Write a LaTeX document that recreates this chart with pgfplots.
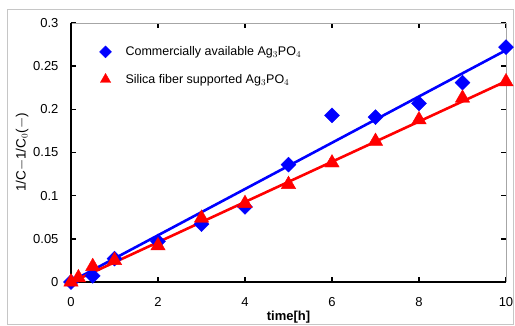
\documentclass[border=0pt]{standalone}
\usepackage{pgfplots}
\pgfplotsset{compat=1.18}
\usepackage{fontspec}
\setmainfont{Liberation Sans}
\definecolor{xlblue}{RGB}{0,0,255}
\definecolor{xlred}{RGB}{255,0,0}
\begin{document}
\begin{tikzpicture}[x=1pt,y=1pt]
\path[use as bounding box] (0,0) rectangle (515,325);
\draw[gray!45, line width=0.8pt] (7,1) rectangle (513,316);
\begin{axis}[
  at={(71pt,43pt)}, anchor=south west,
  scale only axis, width=435pt, height=259pt,
  xmin=0, xmax=10, ymin=0, ymax=0.3,
  xtick={0,2,4,6,8,10},
  ytick={0,0.05,0.1,0.15,0.2,0.25,0.3},
  yticklabel style={/pgf/number format/fixed, /pgf/number format/precision=2},
  /pgf/number format/assume math mode=true,
  tick align=inside,
  major tick length=5pt,
  tick style={black, line width=1.6pt},
  axis line style={draw=none},
  ticklabel style={font=\fontsize{13}{15}\selectfont},
  xticklabel shift=12pt,
  yticklabel shift=9pt,
  xlabel={\textbf{time[h]}},
  xlabel style={font=\fontsize{13}{15}\selectfont, at={(rel axis cs:0.5,0)}, anchor=north, yshift=-26pt},
  ylabel={1/C$-$1/C$_0$($-$)},
  ylabel style={font=\fontsize{13.5}{15}\selectfont, yshift=-2pt},
  clip=false,
  legend style={draw=none, fill=none, at={(0.056,0.925)}, anchor=north west,
    font=\fontsize{12.5}{15}\selectfont, row sep=13pt},
  legend cell align=left,
]
% frame
\draw[gray!70, line width=0.9pt] (rel axis cs:0,1) -- (rel axis cs:1,1) -- (rel axis cs:1,0);
\draw[black, line width=1.8pt] (rel axis cs:0,1) -- (rel axis cs:0,0) -- (rel axis cs:1,0);
% fit lines
\addplot[xlblue, line width=2.6pt, forget plot] coordinates {(0,0.0005) (10,0.2685)};
\addplot[xlred, line width=2.6pt, forget plot] coordinates {(0,-0.0005) (10,0.2325)};
\addplot[only marks, mark=square*, mark size=5.3pt, mark options={rotate=45, fill=xlblue, draw=xlblue}, color=xlblue,
  legend image code/.code={\path[draw=none,fill=none] (0pt,0pt) -- (25pt,0pt); \path[xlblue] plot[mark=square*, mark size=4.2pt, mark options={rotate=45, fill=xlblue, draw=xlblue}] coordinates {(7pt,0pt)};}]
coordinates {
(0,0) (0.5,0.007) (1,0.027) (2,0.047) (3,0.067) (4,0.087) (5,0.136)
(6,0.193) (7,0.191) (8,0.207) (9,0.231) (10,0.272)
};
\addlegendentry{Commercially available Ag$_3$PO$_4$}
\addplot[only marks, mark=triangle*, mark size=8.3pt, mark options={fill=xlred, draw=xlred}, color=xlred,
  legend image code/.code={\path[draw=none,fill=none] (0pt,0pt) -- (25pt,0pt); \path[xlred] plot[mark=triangle*, mark size=6pt, mark options={fill=xlred, draw=xlred}] coordinates {(7pt,0pt)};}]
coordinates {
(0,0) (0.17,0.005) (0.5,0.018) (1,0.025) (2,0.042) (3,0.074) (4,0.091) (5,0.113)
(6,0.138) (7,0.163) (8,0.188) (9,0.213) (10,0.232)
};
\addlegendentry{Silica fiber supported Ag$_3$PO$_4$}
\end{axis}
\end{tikzpicture}
\end{document}
